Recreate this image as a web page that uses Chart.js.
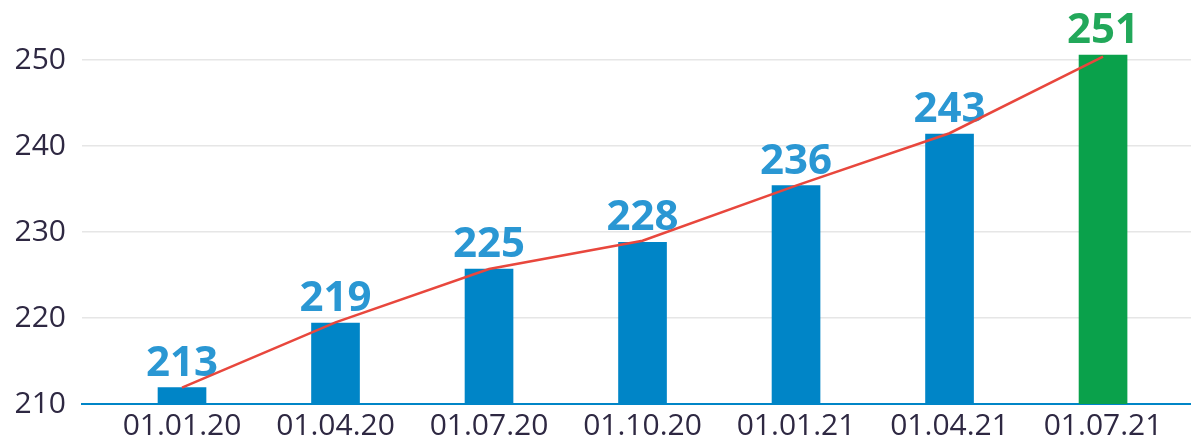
<!DOCTYPE html>
<html>
<head>
<meta charset="utf-8">
<script src="https://cdn.jsdelivr.net/npm/chart.js@4.4.0/dist/chart.umd.min.js"></script>
<style>
    html, body { margin: 0; padding: 0; background: #ffffff; }
    #wrap { position: relative; width: 1191px; height: 439px; }
</style>
</head>
<body>
<div id="wrap"><canvas id="growth-chart"></canvas></div>
<script>
    "use strict";

    // Data
    const categories = ["01.01.20", "01.04.20", "01.07.20", "01.10.20", "01.01.21", "01.04.21", "01.07.21"];
    const barValues = [211.9, 219.4, 225.7, 228.8, 235.4, 241.4, 250.6];
    const trendValues = [211.9, 219.5, 225.7, 229.0, 235.4, 241.5, 250.4];
    const labelValues = [213, 219, 225, 228, 236, 243, 251];
    const yTicks = [210, 220, 230, 240, 250];

    const BLUE = "#0085c7";
    const GREEN = "#0aa14b";
    const LABEL_BLUE = "#2a97d3";
    const LABEL_GREEN = "#22a85a";
    const TEXT = "#2e2842";

    const lastIndex = categories.length - 1;

    // Value labels above the bars
    const barLabels = {
        id: "barLabels",
        beforeDatasetsDraw(chart) {
            const meta = chart.getDatasetMeta(0);
            const ctx = chart.ctx;
            ctx.save();
            ctx.font = "bold 42px 'Open Sans'";
            ctx.textAlign = "center";
            ctx.textBaseline = "alphabetic";
            meta.data.forEach(function (bar, i) {
                ctx.fillStyle = i === lastIndex ? LABEL_GREEN : LABEL_BLUE;
                ctx.fillText(String(labelValues[i]), bar.x, bar.y - 12);
            });
            ctx.restore();
        }
    };

    const ctx = document.getElementById("growth-chart").getContext("2d");
    const chart = new Chart(ctx, {
        type: "bar",
        data: {
            datasets: [{
                type: "bar",
                data: barValues.map(function (v, i) { return {x: i, y: v}; }),
                backgroundColor: barValues.map(function (v, i) { return i === lastIndex ? GREEN : BLUE; }),
                barThickness: 48,
                order: 1
            },
                {
                    type: "line",
                    data: trendValues.map(function (v, i) { return {x: i, y: v}; }),
                    borderColor: "#e8473d",
                    borderWidth: 2.5,
                    pointRadius: 0,
                    tension: 0,
                    fill: false,
                    order: 0
                }
            ]
        },
        options: {
            responsive: true,
            maintainAspectRatio: false,
            animation: false,
            layout: {padding: 0},
            plugins: {
                legend: {display: false},
                tooltip: {enabled: false}
            },
            scales: {
                x: {
                    type: "linear",
                    offset: false,
                    min: -0.6515,
                    max: 6.573,
                    afterBuildTicks: function (scale) {
                        scale.ticks = categories.map(function (c, i) { return {value: i}; });
                    },
                    afterFit: function (scale) {
                        scale.height = 35;
                        scale.paddingLeft = 0;
                        scale.paddingRight = 0;
                    },
                    grid: {display: false, drawTicks: false},
                    border: {display: true, color: BLUE, width: 2},
                    ticks: {
                        autoSkip: false,
                        maxRotation: 0,
                        padding: 4,
                        color: TEXT,
                        font: {family: "'Open Sans'", size: 30},
                        callback: function (value) { return categories[value]; }
                    }
                },
                y: {
                    min: 210,
                    max: 257,
                    afterBuildTicks: function (scale) {
                        scale.ticks = yTicks.map(function (v) { return {value: v}; });
                    },
                    afterFit: function (scale) {
                        scale.width = 82;
                        scale.paddingTop = 0;
                        scale.paddingBottom = 0;
                    },
                    grid: {color: "#e6e6e6", lineWidth: 1.5, drawTicks: false},
                    border: {display: false},
                    ticks: {
                        padding: 16,
                        color: TEXT,
                        font: {family: "'Open Sans'", size: 30}
                    }
                }
            }
        },
        plugins: [barLabels]
    });
</script>
</body>
</html>
